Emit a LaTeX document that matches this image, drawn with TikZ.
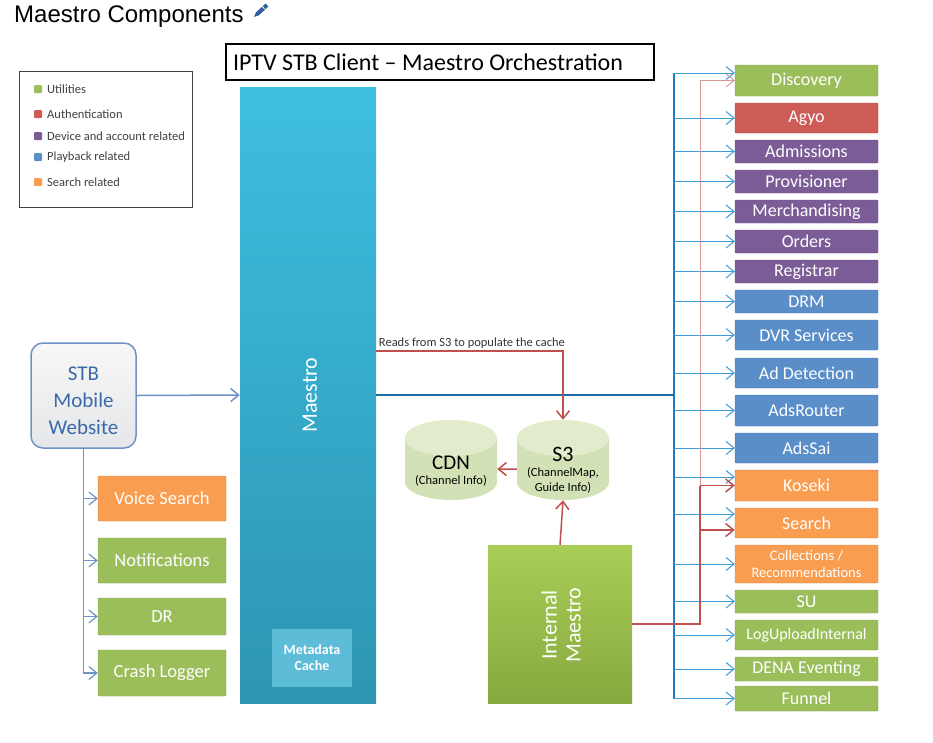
\documentclass[tikz,border=0pt]{standalone}
\usepackage{fontspec}
\setmainfont{Carlito}
\newfontfamily\headfont{Liberation Sans}
\usetikzlibrary{shapes.geometric,arrows.meta}

\definecolor{utilGreen}{HTML}{9BBE5B}
\definecolor{authRed}{HTML}{CD5C57}
\definecolor{devPurple}{HTML}{7C5C97}
\definecolor{playBlue}{HTML}{5A8EC9}
\definecolor{srchOrange}{HTML}{F99D50}
\definecolor{maestroTop}{HTML}{3EBFE2}
\definecolor{maestroBot}{HTML}{2D95B1}
\definecolor{cacheFill}{HTML}{5DBCD7}
\definecolor{busBlue}{HTML}{1F7DC2}
\definecolor{branchBlue}{HTML}{3C9BD9}
\definecolor{linkRed}{HTML}{C0504D}
\definecolor{stbBlue}{HTML}{6F93C5}
\definecolor{stbText}{HTML}{3B6AA8}
\definecolor{cylBody}{HTML}{D3E2B6}
\definecolor{cylEnd}{HTML}{E2ECCD}
\definecolor{intTop}{HTML}{A9CD57}
\definecolor{intBot}{HTML}{87A93E}
\definecolor{penBlue}{HTML}{2F5F9E}

\tikzset{
  svc/.style={rectangle, rounded corners=1pt, minimum width=143pt, inner sep=0pt, text=white, font=\fontsize{18}{18}\selectfont},
  lsvc/.style={svc, minimum width=128pt, font=\fontsize{18.5}{18.5}\selectfont},
  util/.style={fill=utilGreen, draw=utilGreen!85!black},
  auth/.style={fill=authRed, draw=authRed!85!black},
  dev/.style={fill=devPurple, draw=devPurple!85!black},
  play/.style={fill=playBlue, draw=playBlue!85!black},
  srch/.style={fill=srchOrange, draw=srchOrange!85!black},
  keysq/.style={rectangle, minimum size=8pt, inner sep=0pt, rounded corners=1pt},
  keytxt/.style={anchor=west, inner sep=0pt, text=black!75, font=\fontsize{12.5}{12.5}\selectfont},
  store/.style={cylinder, shape border rotate=90, aspect=0.5, minimum width=92pt, minimum height=80pt, inner sep=0pt, anchor=shape center, cylinder uses custom fill, cylinder body fill=cylBody, cylinder end fill=cylEnd},
  barb/.style={-{Straight Barb[length=8pt,width=13pt]}},
  bus/.style={draw=busBlue, line width=1.3pt},
  branch/.style={barb, draw=branchBlue, line width=1pt},
  leftBus/.style={barb, draw=stbBlue, line width=1.2pt},
  redLink/.style={draw=linkRed, line width=1.5pt},
  redThin/.style={draw=linkRed!60, line width=0.9pt},
}

\begin{document}
\begin{tikzpicture}[x=1pt,y=-1pt]
  \useasboundingbox (0,0) rectangle (933,742);

  \node[anchor=west, inner sep=0pt, font=\headfont\fontsize{24}{24}\selectfont] (heading) at (14,17) {Maestro Components};
  \fill[penBlue] (254,17) -- (258.7,15.4) -- (268.4,6.5) -- (265.6,3.5) -- (255.9,12.4) -- cycle;
  \draw[white, line width=0.8pt] (264.6,9.0) -- (262.2,6.4);
  \node[draw=black, line width=1.5pt, minimum width=428pt, minimum height=36pt, font=\fontsize{24}{24}\selectfont] (banner) at (440,62) {\hspace{-24pt}IPTV STB Client – Maestro Orchestration};

  % legend
  \node[draw=black!75, line width=1pt, minimum width=173pt, minimum height=136pt] (legend) at (105.5,139) {};
  \node[keysq, fill=utilGreen] (kUtil) at (38,89) {};
  \node[keysq, fill=authRed] (kAuth) at (38,114) {};
  \node[keysq, fill=devPurple] (kDev) at (38,136) {};
  \node[keysq, fill=playBlue] (kPlay) at (38,157) {};
  \node[keysq, fill=srchOrange] (kSrch) at (38,182) {};
  \node[keytxt] (tUtil) at (47,89) {Utilities};
  \node[keytxt] (tAuth) at (47,114) {Authentication};
  \node[keytxt] (tDev) at (47,136) {Device and account related};
  \node[keytxt] (tPlay) at (47,157) {Playback related};
  \node[keytxt] (tSrch) at (47,182) {Search related};

  % maestro
  \node[rectangle, minimum width=136pt, minimum height=616pt, top color=maestroTop, bottom color=maestroBot] (maestro) at (308,395) {};
  \node[rotate=90, inner sep=0pt, text=white, font=\fontsize{22}{22}\selectfont] (maestroLbl) at (310,395) {Maestro};
  \node[fill=cacheFill, minimum width=80pt, minimum height=58pt, align=center, text=white, font=\bfseries\fontsize{14}{16}\selectfont] (cache) at (312,658) {Metadata\\Cache};

  % client side
  \node[draw=stbBlue, line width=1.5pt, rounded corners=12pt, top color=black!3, bottom color=stbBlue!35!black!12, minimum width=105pt, minimum height=105pt, text=stbText, font=\fontsize{21}{27}\selectfont] (stb) at (83.5,395.5) {\raisebox{-5pt}[\height][\depth]{\shortstack{STB\\[10pt]Mobile\\[9pt]Website}}};
  \node[lsvc, srch, minimum height=45pt] (voice) at (162,498.5) {Voice Search};
  \node[lsvc, util, minimum height=45pt] (notif) at (162,560.5) {Notifications};
  \node[lsvc, util, minimum height=37pt] (dr) at (162,616.5) {DR};
  \node[lsvc, util, minimum height=46pt] (crash) at (162,673) {Crash Logger};

  % storage
  \node[store] (cdn) at (451,460) {\raisebox{-15.5pt}[5pt][5pt]{\shortstack{{\fontsize{21}{21}\selectfont CDN}\\[3pt]{\fontsize{12.5}{13}\selectfont (Channel Info)}}}};
  \node[store] (s3) at (563,460) {\raisebox{-22.5pt}[5pt][5pt]{\shortstack{{\fontsize{22}{22}\selectfont S3}\\[3pt]{\fontsize{12.5}{13}\selectfont (ChannelMap,}\\[1pt]{\fontsize{12.5}{13}\selectfont Guide Info)}}}};
  \node[rectangle, minimum width=144pt, minimum height=158pt, top color=intTop, bottom color=intBot] (intm) at (560,624) {};
  \node[rotate=90, inner sep=0pt, align=center, text=white, font=\fontsize{22}{24}\selectfont] (intmLbl) at (561,625) {Internal\\Maestro};

  % services
  \node[svc, util, minimum height=31pt] (disc) at (806.5,80.5) {Discovery};
  \node[svc, auth, minimum height=30pt] (agyo) at (806.5,118) {Agyo};
  \node[svc, dev, minimum height=23pt] (adm) at (806.5,151.5) {Admissions};
  \node[svc, dev, minimum height=23pt] (prov) at (806.5,181.5) {Provisioner};
  \node[svc, dev, minimum height=23pt] (merch) at (806.5,211.5) {Merchandising};
  \node[svc, dev, minimum height=23pt] (ord) at (806.5,241.5) {Orders};
  \node[svc, dev, minimum height=23pt] (reg) at (806.5,271.5) {Registrar};
  \node[svc, play, minimum height=23pt] (drm) at (806.5,301.5) {DRM};
  \node[svc, play, minimum height=30pt] (dvr) at (806.5,335) {DVR Services};
  \node[svc, play, minimum height=30pt] (adet) at (806.5,373) {Ad Detection};
  \node[svc, play, minimum height=31pt] (arout) at (806.5,410.5) {AdsRouter};
  \node[svc, play, minimum height=30pt] (asai) at (806.5,448) {AdsSai};
  \node[svc, srch, draw=linkRed!80!srchOrange, minimum height=31pt] (kos) at (806.5,485.5) {Koseki};
  \node[svc, srch, minimum height=30pt] (search) at (806.5,523) {Search};
  \node[svc, srch, minimum height=38pt, align=center, font=\fontsize{14.5}{17}\selectfont] (coll) at (806.5,564) {Collections /\\Recommendations};
  \node[svc, util, minimum height=23pt] (su) at (806.5,601.5) {SU};
  \node[svc, util, minimum height=30pt, font=\fontsize{16}{16}\selectfont] (logup) at (806.5,635) {LogUploadInternal};
  \node[svc, util, minimum height=24pt] (dena) at (806.5,669) {DENA Eventing};
  \node[svc, util, minimum height=25pt] (funnel) at (806.5,698.5) {Funnel};

  % client links
  \draw[barb, draw=stbBlue, line width=1.5pt] (stb.east) -- (maestro.west);
  \draw[leftBus] (stb.south) |- (voice.west);
  \draw[leftBus] (stb.south) |- (notif.west);
  \draw[leftBus] (stb.south) |- (dr.west);
  \draw[leftBus] (stb.south) |- (crash.west);

  % blue bus
  \coordinate (busTop) at (674,73);
  \coordinate (busBot) at (674,698.5);
  \coordinate (busThickA) at (674,212);
  \coordinate (busThickB) at (674,513);
  \coordinate (discB) at ([yshift=7.5pt]disc.west);
  \coordinate (kosB) at ([yshift=8.5pt]kos.west);
  \coordinate (searchB) at ([yshift=9pt]search.west);
  \draw[bus] (busTop) -- (busBot);
  \draw[bus, line width=2.2pt] (busThickA) -- (busThickB);
  \draw[bus, draw=busBlue!85!black, line width=1.6pt] (maestro.east) -- (maestro.east -| busTop);
  \draw[branch] (busTop |- discB) -- (discB);
  \draw[branch] (busTop |- agyo.west) -- (agyo.west);
  \draw[branch] (busTop |- adm.west) -- (adm.west);
  \draw[branch] (busTop |- prov.west) -- (prov.west);
  \draw[branch] (busTop |- merch.west) -- (merch.west);
  \draw[branch] (busTop |- ord.west) -- (ord.west);
  \draw[branch] (busTop |- reg.west) -- (reg.west);
  \draw[branch] (busTop |- drm.west) -- (drm.west);
  \draw[branch] (busTop |- dvr.west) -- (dvr.west);
  \draw[branch] (busTop |- adet.west) -- (adet.west);
  \draw[branch] (busTop |- arout.west) -- (arout.west);
  \draw[branch] (busTop |- asai.west) -- (asai.west);
  \draw[branch] (busTop |- kosB) -- (kosB);
  \draw[branch] (busTop |- searchB) -- (searchB);
  \draw[branch] (busTop |- coll.west) -- (coll.west);
  \draw[branch] (busTop |- su.west) -- (su.west);
  \draw[branch] (busTop |- logup.west) -- (logup.west);
  \draw[branch] (busTop |- dena.west) -- (dena.west);
  \draw[branch] (busTop |- funnel.west) -- (funnel.west);

  % red links
  \coordinate (cacheRead) at (563,351);
  \coordinate (redTop) at (700,80.5);
  \coordinate (redKnee) at (700,624);
  \coordinate (searchR) at ([yshift=-7pt]search.west);
  \draw[redLink, barb] (maestro.east |- cacheRead) -- node[above right, pos=0, inner sep=2pt, text=black!80, font=\fontsize{12.5}{13}\selectfont] (readsLbl) {Reads from S3 to populate the cache} (cacheRead) -- (s3.top);
  \draw[redLink, barb] (s3.west) -- (cdn.east);
  \draw[redLink, barb] (intm.north) -- (s3.bottom);
  \draw[redThin] (redKnee |- kos.west) -- (redTop);
  \draw[redThin, barb] (redTop) -- (disc.west);
  \draw[redLink] (intm.east) -- (redKnee) -- (redKnee |- kos.west);
  \draw[redLink, barb] (redKnee |- kos.west) -- (kos.west);
  \draw[redLink, barb] (redKnee |- searchR) -- (searchR);
\end{tikzpicture}
\end{document}
